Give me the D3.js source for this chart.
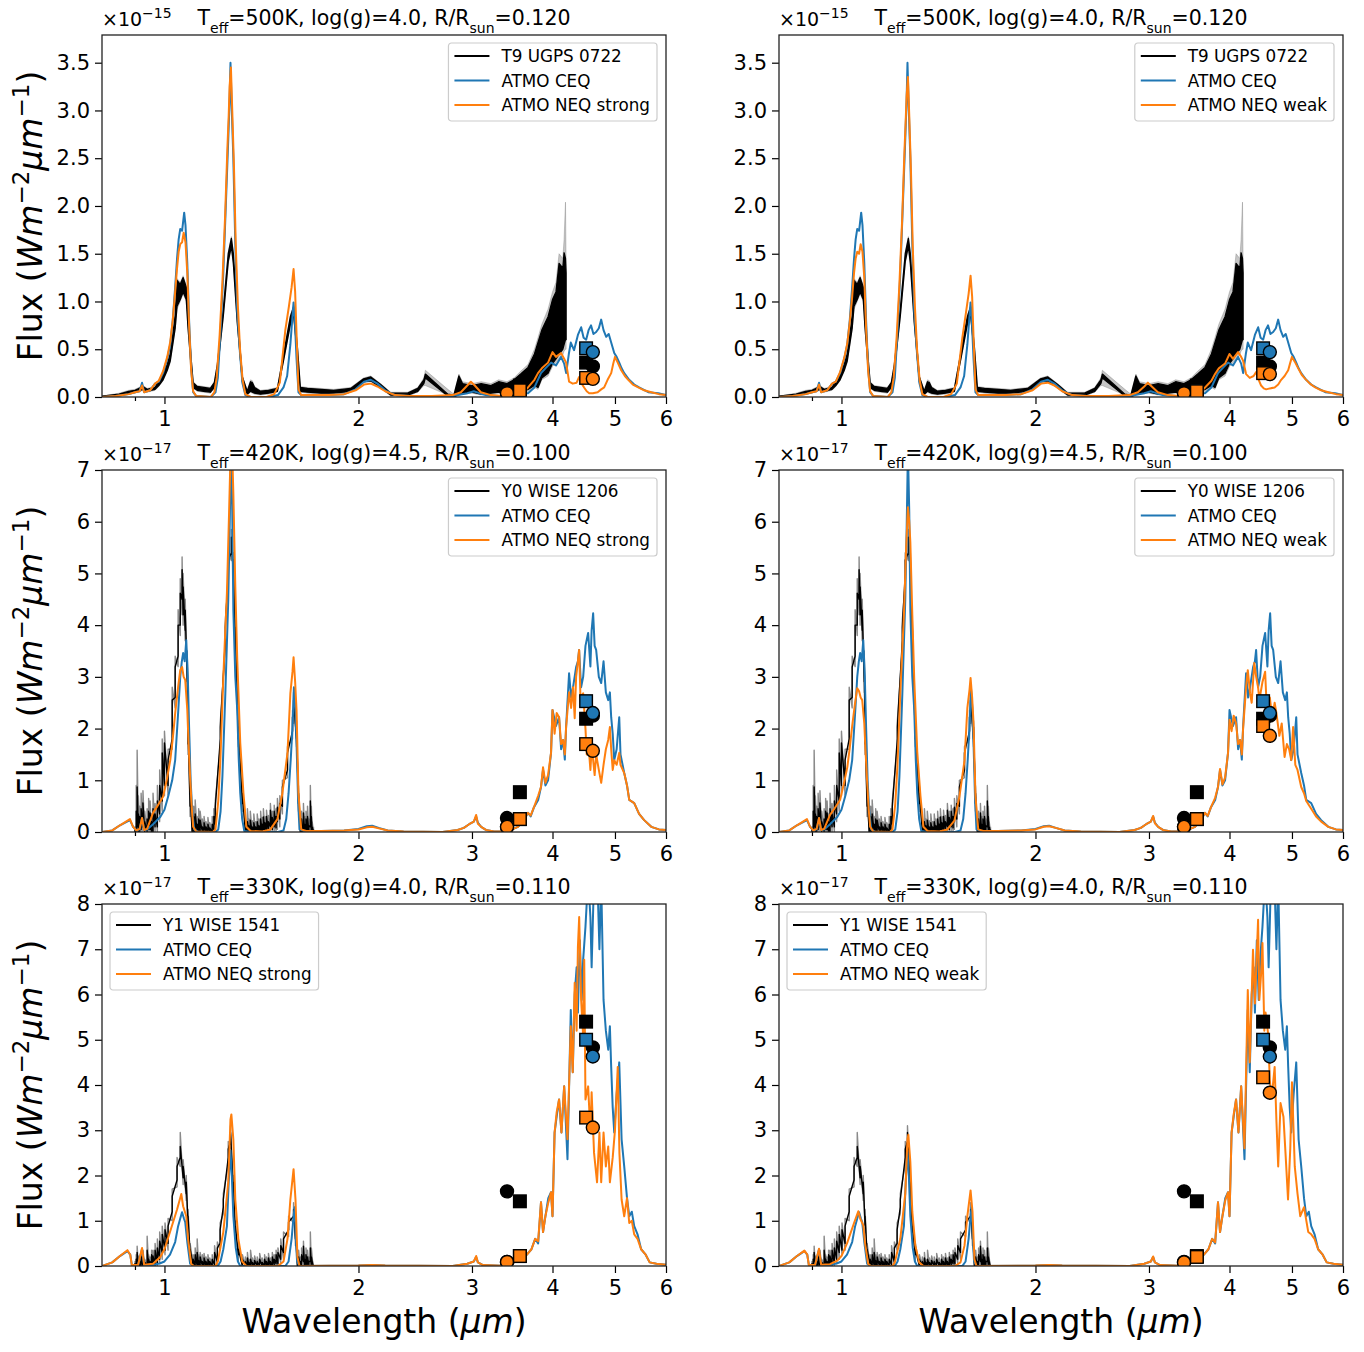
<!DOCTYPE html>
<html>
<head>
<meta charset="utf-8">
<script src="https://cdn.jsdelivr.net/npm/d3@7"></script>
<style>
  body { margin: 0; background: #fff; }
  svg { font-family: "DejaVu Sans", sans-serif; }
</style>
</head>
<body>
<div id="chart"></div>
<script>
// ---- Data (flux in units of the panel exponent, wavelength in micron) ----

// observed spectra: [wavelength, lo, hi, errLo, errHi]
const obsT9 = [
  [0.80,0.00,0.01,0.00,0.01],[0.85,0.02,0.03,0.01,0.04],[0.88,0.04,0.06,0.03,0.07],[0.90,0.05,0.07,0.04,0.08],
  [0.926,0.08,0.11,0.07,0.12],[0.94,0.06,0.08,0.05,0.09],[0.967,0.08,0.10,0.07,0.11],[0.98,0.12,0.16,0.11,0.17],
  [0.995,0.18,0.24,0.17,0.25],[1.01,0.28,0.34,0.27,0.35],[1.021,0.38,0.45,0.36,0.47],[1.039,0.72,0.85,0.70,0.87],
  [1.046,0.95,1.22,0.92,1.24],[1.058,1.02,1.18,1.00,1.20],[1.069,1.10,1.25,1.08,1.27],[1.081,1.02,1.15,1.00,1.17],
  [1.088,0.72,0.85,0.70,0.87],[1.100,0.32,0.40,0.30,0.42],[1.108,0.10,0.15,0.09,0.16],[1.124,0.07,0.11,0.06,0.12],
  [1.15,0.06,0.10,0.05,0.11],[1.178,0.05,0.09,0.04,0.10],[1.195,0.10,0.15,0.09,0.16],[1.208,0.28,0.34,0.27,0.35],
  [1.234,0.85,0.92,0.83,0.94],[1.256,1.42,1.50,1.40,1.52],[1.270,1.58,1.66,1.56,1.68],[1.279,1.40,1.50,1.38,1.52],
  [1.297,0.78,0.86,0.76,0.88],[1.321,0.16,0.21,0.15,0.22],[1.344,0.03,0.06,0.02,0.07],[1.360,0.06,0.16,0.05,0.18],
  [1.369,0.05,0.15,0.04,0.17],[1.38,0.04,0.10,0.03,0.11],[1.409,0.03,0.06,0.02,0.07],[1.45,0.04,0.07,0.03,0.08],
  [1.497,0.06,0.09,0.05,0.10],[1.530,0.38,0.44,0.37,0.45],[1.568,0.76,0.84,0.75,0.86],[1.586,0.86,0.94,0.85,0.96],
  [1.608,0.45,0.52,0.44,0.53],[1.625,0.06,0.10,0.05,0.11],[1.667,0.05,0.09,0.04,0.10],[1.75,0.04,0.08,0.03,0.09],
  [1.83,0.04,0.07,0.03,0.08],[1.945,0.06,0.09,0.05,0.10],[2.037,0.16,0.19,0.15,0.20],[2.09,0.17,0.21,0.16,0.22],
  [2.165,0.10,0.13,0.09,0.14],[2.244,0.02,0.04,0.01,0.05],[2.384,0.02,0.04,0.01,0.05],[2.472,0.06,0.09,0.05,0.10],
  [2.526,0.14,0.18,0.12,0.20],[2.54,0.20,0.24,0.12,0.28],[2.752,0.01,0.03,0.02,0.08],[2.812,0.00,0.02,0.00,0.03],
  [2.863,0.03,0.22,0.02,0.24],[2.90,0.04,0.14,0.03,0.16],[3.00,0.05,0.12,0.04,0.14],[3.10,0.03,0.14,0.02,0.16],
  [3.21,0.04,0.12,0.03,0.14],[3.30,0.05,0.16,0.04,0.18],[3.40,0.04,0.14,0.03,0.16],[3.486,0.02,0.18,0.01,0.20],
  [3.57,0.05,0.24,0.04,0.27],[3.665,0.08,0.31,0.06,0.34],[3.75,0.12,0.45,0.10,0.50],[3.798,0.10,0.57,0.08,0.62],
  [3.85,0.20,0.70,0.18,0.76],[3.937,0.25,0.84,0.22,0.92],[4.00,0.35,1.02,0.32,1.10],[4.05,0.40,1.10,0.36,1.20],
  [4.095,0.45,1.40,0.40,1.50],[4.15,0.50,1.35,0.44,1.45],[4.169,0.55,1.51,0.48,1.65],[4.19,0.60,1.45,0.50,2.04],
  [4.199,0.60,1.30,0.50,1.40]
];

const obsY0 = [
  [0.900,0.00,0.05,0.00,0.10],[0.904,0.00,0.40,0.00,0.90],[0.907,0.10,0.87,0.00,1.58],[0.911,0.00,0.35,0.00,0.70],
  [0.915,0.00,0.30,0.00,0.50],[0.920,0.05,0.45,0.00,0.75],[0.926,0.10,0.56,0.00,0.80],[0.932,0.00,0.20,0.00,0.40],
  [0.940,0.00,0.25,0.00,0.45],[0.945,0.05,0.40,0.00,0.65],[0.950,0.05,0.37,0.00,0.60],[0.955,0.00,0.20,0.00,0.35],
  [0.960,0.00,0.45,0.00,0.75],[0.967,0.10,0.35,0.00,0.55],[0.975,0.10,0.60,0.00,0.90],[0.983,0.35,0.90,0.20,1.20],
  [0.992,0.60,1.53,0.40,1.80],[1.000,0.90,1.72,0.70,1.95],[1.013,0.90,1.39,0.70,1.60],[1.028,1.80,2.55,1.60,2.80],
  [1.039,2.60,3.19,2.40,3.40],[1.050,3.40,4.00,3.20,4.30],[1.058,4.00,4.62,3.80,4.90],[1.065,4.50,5.07,4.20,5.32],
  [1.069,4.20,4.74,4.00,5.00],[1.077,3.90,4.29,3.70,4.50],[1.085,2.90,3.33,2.70,3.50],[1.088,1.70,2.03,1.50,2.20],
  [1.096,0.50,0.75,0.30,0.90],[1.104,0.00,0.10,0.00,0.25],[1.110,0.00,0.30,0.00,0.50],[1.116,0.00,0.35,0.00,0.62],
  [1.124,0.00,0.15,0.00,0.30],[1.130,0.00,0.25,0.00,0.45],[1.136,0.00,0.23,0.00,0.40],[1.145,0.00,0.10,0.00,0.25],
  [1.152,0.00,0.18,0.00,0.30],[1.160,0.00,0.10,0.00,0.20],[1.168,0.00,0.15,0.00,0.28],[1.176,0.00,0.08,0.00,0.18],
  [1.186,0.00,0.15,0.00,0.30],[1.193,0.05,0.30,0.00,0.45],[1.199,0.15,0.48,0.05,0.60],[1.221,1.80,2.03,1.65,2.15],
  [1.243,3.70,3.96,3.55,4.10],[1.256,5.00,5.26,4.85,5.40],[1.270,5.40,5.70,5.25,5.85],[1.279,5.00,5.26,4.85,5.40],
  [1.288,3.70,3.96,3.55,4.10],[1.302,1.80,2.03,1.65,2.15],[1.321,0.55,0.75,0.40,0.90],[1.335,0.00,0.10,0.00,0.25],
  [1.345,0.00,0.20,0.00,0.45],[1.352,0.00,0.12,0.00,0.25],[1.359,0.00,0.23,0.00,0.40],[1.368,0.00,0.10,0.00,0.22],
  [1.376,0.00,0.18,0.00,0.35],[1.385,0.00,0.10,0.00,0.20],[1.393,0.00,0.20,0.00,0.35],[1.402,0.00,0.12,0.00,0.25],
  [1.410,0.02,0.25,0.00,0.40],[1.418,0.00,0.15,0.00,0.28],[1.424,0.05,0.29,0.00,0.45],[1.432,0.02,0.18,0.00,0.30],
  [1.440,0.05,0.30,0.00,0.42],[1.450,0.02,0.20,0.00,0.32],[1.460,0.10,0.42,0.00,0.55],[1.470,0.05,0.28,0.00,0.40],
  [1.480,0.10,0.40,0.00,0.52],[1.490,0.08,0.30,0.00,0.45],[1.497,0.20,0.48,0.05,0.65],[1.510,0.25,0.55,0.10,0.70],
  [1.524,0.50,0.87,0.35,1.00],[1.552,1.20,1.53,1.05,1.65],[1.580,1.95,2.22,1.80,2.35],[1.586,2.25,2.55,2.10,2.70],
  [1.603,1.80,2.03,1.65,2.15],[1.614,0.55,0.75,0.40,0.90],[1.625,0.00,0.10,0.00,0.25],[1.632,0.00,0.25,0.00,0.40],
  [1.638,0.00,0.10,0.00,0.20],[1.643,0.05,0.37,0.00,0.55],[1.650,0.00,0.15,0.00,0.30],[1.658,0.00,0.25,0.00,0.40],
  [1.667,0.00,0.30,0.00,0.50],[1.675,0.00,0.12,0.00,0.25],[1.684,0.10,0.60,0.00,0.90],[1.690,0.00,0.30,0.00,0.50],
  [1.695,0.00,0.10,0.00,0.20],[1.703,0.00,0.05,0.00,0.10]
];

const obsY1 = [
  [0.900,0.00,0.05,0.00,0.10],[0.904,0.00,0.15,0.00,0.25],[0.907,0.00,0.30,0.00,0.44],[0.911,0.00,0.12,0.00,0.22],
  [0.915,0.00,0.10,0.00,0.20],[0.920,0.00,0.22,0.00,0.30],[0.926,0.00,0.20,0.00,0.35],[0.932,0.00,0.08,0.00,0.15],
  [0.940,0.00,0.35,0.00,0.66],[0.945,0.00,0.15,0.00,0.25],[0.950,0.00,0.10,0.00,0.20],[0.955,0.00,0.25,0.00,0.35],
  [0.960,0.00,0.22,0.00,0.35],[0.967,0.02,0.35,0.00,0.50],[0.975,0.05,0.40,0.00,0.60],[0.983,0.15,0.55,0.05,0.75],
  [0.992,0.30,0.70,0.15,0.88],[1.002,0.35,0.80,0.25,0.95],[1.013,0.50,0.88,0.35,1.05],[1.028,1.20,1.54,1.00,1.70],
  [1.046,1.90,2.20,1.75,2.40],[1.058,2.40,2.64,2.20,2.95],[1.069,1.95,2.20,1.80,2.35],[1.081,1.60,1.85,1.45,2.00],
  [1.088,0.90,1.10,0.75,1.25],[1.096,0.25,0.37,0.15,0.50],[1.108,0.00,0.15,0.00,0.25],[1.116,0.00,0.25,0.00,0.40],
  [1.124,0.00,0.30,0.00,0.60],[1.130,0.00,0.12,0.00,0.25],[1.136,0.00,0.20,0.00,0.30],[1.145,0.00,0.10,0.00,0.25],
  [1.152,0.00,0.18,0.00,0.28],[1.16,0.00,0.10,0.00,0.20],[1.168,0.00,0.15,0.00,0.25],[1.176,0.00,0.10,0.00,0.18],
  [1.186,0.00,0.15,0.00,0.25],[1.196,0.02,0.30,0.00,0.45],[1.208,0.10,0.40,0.00,0.53],[1.22,0.50,0.80,0.35,0.95],
  [1.234,1.30,1.47,1.15,1.60],[1.256,2.40,2.58,2.25,2.75],[1.266,2.75,2.95,2.60,3.10],[1.279,1.70,1.85,1.55,2.00],
  [1.288,0.75,0.88,0.60,1.00],[1.302,0.25,0.37,0.10,0.50],[1.321,0.00,0.15,0.00,0.25],[1.335,0.00,0.10,0.00,0.20],
  [1.345,0.00,0.18,0.00,0.30],[1.352,0.00,0.08,0.00,0.15],[1.36,0.00,0.15,0.00,0.35],[1.37,0.00,0.08,0.00,0.18],
  [1.38,0.00,0.12,0.00,0.22],[1.393,0.00,0.10,0.00,0.20],[1.405,0.00,0.15,0.00,0.28],[1.418,0.00,0.08,0.00,0.18],
  [1.43,0.00,0.15,0.00,0.25],[1.44,0.00,0.10,0.00,0.20],[1.45,0.00,0.18,0.00,0.28],[1.46,0.00,0.10,0.00,0.18],
  [1.47,0.00,0.20,0.00,0.30],[1.48,0.02,0.15,0.00,0.25],[1.49,0.05,0.25,0.00,0.35],[1.50,0.05,0.30,0.00,0.40],
  [1.515,0.15,0.45,0.05,0.60],[1.53,0.30,0.60,0.15,0.75],[1.558,0.80,0.97,0.65,1.10],[1.586,1.10,1.25,0.95,1.40],
  [1.597,0.60,0.75,0.45,0.90],[1.608,0.00,0.10,0.00,0.20],[1.615,0.00,0.20,0.00,0.35],[1.625,0.00,0.10,0.00,0.20],
  [1.632,0.00,0.25,0.00,0.40],[1.643,0.10,0.44,0.00,0.55],[1.650,0.00,0.15,0.00,0.25],[1.658,0.00,0.25,0.00,0.40],
  [1.667,0.00,0.20,0.00,0.35],[1.675,0.00,0.10,0.00,0.20],[1.684,0.10,0.40,0.00,0.75],[1.690,0.00,0.20,0.00,0.40],
  [1.70,0.00,0.05,0.00,0.10]
];

// model spectra: [wavelength, flux]
const ceq500 = [
  [0.80,0.00],[0.84,0.01],[0.88,0.03],[0.90,0.05],[0.915,0.06],[0.923,0.15],[0.93,0.05],[0.95,0.07],[0.967,0.14],
  [0.98,0.16],[0.995,0.25],[1.01,0.40],[1.021,0.55],[1.03,0.80],[1.039,1.15],[1.046,1.45],[1.052,1.65],[1.058,1.76],
  [1.065,1.74],[1.073,1.93],[1.078,1.80],[1.085,1.40],[1.092,0.80],[1.10,0.30],[1.108,0.05],[1.12,0.01],[1.18,0.00],
  [1.20,0.05],[1.21,0.20],[1.222,0.70],[1.234,1.30],[1.245,2.00],[1.256,2.70],[1.262,3.10],[1.266,3.50],[1.272,3.00],
  [1.279,2.50],[1.288,1.60],[1.297,0.90],[1.31,0.45],[1.321,0.15],[1.335,0.02],[1.36,0.00],[1.45,0.00],[1.50,0.02],
  [1.53,0.10],[1.55,0.22],[1.568,0.55],[1.58,0.85],[1.586,0.99],[1.592,0.85],[1.603,0.40],[1.614,0.05],[1.63,0.02],
  [1.70,0.02],[1.80,0.02],[1.90,0.03],[1.98,0.08],[2.04,0.16],[2.09,0.18],[2.14,0.14],[2.20,0.07],[2.28,0.02],
  [2.40,0.01],[2.60,0.01],[2.80,0.01],[2.95,0.04],[3.02,0.06],[3.08,0.04],[3.15,0.02],[3.30,0.01],[3.45,0.02],
  [3.55,0.04],[3.665,0.04],[3.75,0.10],[3.839,0.25],[3.90,0.30],[3.98,0.36],[4.05,0.33],[4.124,0.42],[4.17,0.35],
  [4.20,0.25],[4.24,0.45],[4.27,0.57],[4.32,0.49],[4.38,0.65],[4.431,0.73],[4.47,0.62],[4.511,0.60],[4.55,0.70],
  [4.59,0.75],[4.63,0.66],[4.675,0.68],[4.72,0.72],[4.76,0.81],[4.80,0.70],[4.846,0.63],[4.89,0.66],[4.933,0.57],
  [4.987,0.46],[5.03,0.42],[5.077,0.36],[5.12,0.30],[5.168,0.25],[5.26,0.18],[5.356,0.13],[5.45,0.10],[5.632,0.05],
  [5.837,0.04],[6.0,0.02]
];

const neqStrong500 = [
  [0.80,0.00],[0.84,0.01],[0.88,0.03],[0.90,0.05],[0.915,0.06],[0.923,0.12],[0.93,0.05],[0.95,0.07],[0.967,0.14],
  [0.98,0.17],[0.995,0.27],[1.01,0.42],[1.021,0.58],[1.03,0.80],[1.039,1.10],[1.046,1.35],[1.052,1.52],[1.058,1.60],
  [1.065,1.62],[1.071,1.72],[1.078,1.62],[1.085,1.30],[1.092,0.75],[1.10,0.28],[1.108,0.06],[1.12,0.01],[1.18,0.00],
  [1.195,0.05],[1.205,0.20],[1.218,0.65],[1.23,1.20],[1.242,1.90],[1.252,2.60],[1.258,2.95],[1.262,3.25],[1.268,3.45],
  [1.274,3.00],[1.282,2.40],[1.29,1.60],[1.30,0.95],[1.31,0.50],[1.322,0.18],[1.335,0.03],[1.36,0.00],[1.44,0.00],
  [1.48,0.03],[1.51,0.15],[1.54,0.70],[1.56,0.95],[1.575,1.15],[1.586,1.34],[1.595,1.10],[1.605,0.55],[1.614,0.08],
  [1.63,0.02],[1.70,0.02],[1.80,0.02],[1.90,0.03],[1.98,0.07],[2.04,0.13],[2.09,0.14],[2.14,0.11],[2.20,0.06],
  [2.28,0.02],[2.40,0.01],[2.60,0.01],[2.80,0.02],[2.883,0.05],[2.95,0.12],[2.988,0.16],[3.03,0.12],[3.097,0.05],
  [3.21,0.02],[3.35,0.01],[3.50,0.02],[3.60,0.05],[3.665,0.10],[3.75,0.18],[3.798,0.25],[3.85,0.30],[3.937,0.36],
  [4.00,0.47],[4.05,0.42],[4.124,0.46],[4.17,0.40],[4.199,0.36],[4.244,0.16],[4.30,0.14],[4.36,0.15],[4.399,0.21],
  [4.44,0.14],[4.478,0.10],[4.52,0.06],[4.56,0.04],[4.62,0.04],[4.70,0.05],[4.76,0.08],[4.811,0.10],[4.87,0.18],
  [4.933,0.25],[4.97,0.35],[5.0,0.42],[5.05,0.36],[5.113,0.28],[5.18,0.22],[5.243,0.18],[5.33,0.13],[5.434,0.10],
  [5.55,0.07],[5.693,0.05],[5.85,0.03],[6.0,0.02]
];

const neqWeak500 = [
  [0.80,0.00],[0.84,0.01],[0.88,0.03],[0.90,0.05],[0.915,0.06],[0.923,0.13],[0.93,0.05],[0.95,0.07],[0.967,0.14],
  [0.98,0.16],[0.995,0.26],[1.01,0.41],[1.021,0.56],[1.03,0.78],[1.039,1.05],[1.046,1.30],[1.052,1.45],[1.058,1.52],
  [1.065,1.50],[1.071,1.60],[1.078,1.52],[1.085,1.25],[1.092,0.72],[1.10,0.27],[1.108,0.06],[1.12,0.01],[1.18,0.00],
  [1.195,0.05],[1.205,0.20],[1.218,0.63],[1.23,1.18],[1.242,1.85],[1.252,2.55],[1.258,2.90],[1.262,3.15],[1.268,3.35],
  [1.274,2.95],[1.282,2.35],[1.29,1.58],[1.30,0.95],[1.31,0.50],[1.322,0.18],[1.335,0.03],[1.36,0.00],[1.44,0.00],
  [1.48,0.03],[1.51,0.14],[1.54,0.62],[1.56,0.88],[1.575,1.08],[1.586,1.27],[1.595,1.05],[1.605,0.52],[1.614,0.08],
  [1.63,0.02],[1.70,0.02],[1.80,0.02],[1.90,0.03],[1.98,0.07],[2.04,0.14],[2.09,0.15],[2.14,0.12],[2.20,0.06],
  [2.28,0.02],[2.40,0.01],[2.60,0.01],[2.80,0.02],[2.883,0.05],[2.95,0.11],[2.988,0.15],[3.03,0.11],[3.097,0.05],
  [3.21,0.02],[3.35,0.01],[3.50,0.02],[3.60,0.05],[3.665,0.10],[3.75,0.17],[3.798,0.24],[3.85,0.30],[3.937,0.35],
  [4.00,0.45],[4.05,0.40],[4.124,0.47],[4.17,0.42],[4.199,0.38],[4.244,0.24],[4.30,0.20],[4.36,0.22],[4.399,0.26],
  [4.44,0.18],[4.478,0.12],[4.52,0.09],[4.56,0.08],[4.62,0.09],[4.70,0.10],[4.76,0.13],[4.811,0.18],[4.87,0.22],
  [4.933,0.28],[4.97,0.36],[5.0,0.42],[5.05,0.37],[5.113,0.30],[5.18,0.23],[5.243,0.19],[5.33,0.14],[5.434,0.10],
  [5.55,0.07],[5.693,0.05],[5.85,0.03],[6.0,0.02]
];

const ceq420 = [
  [0.80,0.00],[0.83,0.03],[0.853,0.13],[0.884,0.23],[0.894,0.10],[0.905,0.03],[0.915,0.05],[0.923,0.27],[0.93,0.04],
  [0.94,0.05],[0.96,0.15],[0.985,0.29],[1.00,0.43],[1.014,0.70],[1.028,1.00],[1.039,1.39],[1.05,2.30],[1.058,3.00],
  [1.064,3.30],[1.069,3.46],[1.075,3.30],[1.081,3.71],[1.087,3.00],[1.092,2.03],[1.098,1.00],[1.104,0.43],[1.112,0.05],
  [1.13,0.00],[1.20,0.00],[1.212,0.05],[1.222,0.40],[1.23,1.07],[1.243,2.68],[1.256,4.49],[1.262,5.80],[1.268,7.40],
  [1.274,6.20],[1.279,4.29],[1.288,3.00],[1.297,2.36],[1.304,1.40],[1.311,0.75],[1.32,0.25],[1.33,0.02],[1.36,0.00],
  [1.50,0.00],[1.53,0.03],[1.545,0.25],[1.558,0.75],[1.57,1.40],[1.58,2.03],[1.588,2.80],[1.596,2.40],[1.603,1.72],
  [1.612,0.60],[1.62,0.05],[1.65,0.02],[1.75,0.02],[1.90,0.03],[2.00,0.06],[2.06,0.11],[2.10,0.12],[2.15,0.08],
  [2.22,0.03],[2.35,0.01],[2.70,0.00],[2.85,0.04],[2.914,0.08],[2.97,0.15],[3.02,0.20],[3.045,0.30],[3.064,0.18],
  [3.10,0.10],[3.153,0.04],[3.245,0.01],[3.40,0.01],[3.536,0.10],[3.60,0.20],[3.665,0.37],[3.70,0.30],[3.744,0.48],
  [3.80,0.62],[3.839,0.87],[3.867,1.20],[3.90,0.90],[3.937,1.00],[3.979,1.53],[4.00,2.36],[4.05,2.05],[4.095,2.22],
  [4.125,1.60],[4.154,1.78],[4.18,1.40],[4.199,2.03],[4.244,3.07],[4.275,2.60],[4.305,2.80],[4.352,3.19],[4.38,3.30],
  [4.399,3.52],[4.43,2.80],[4.463,3.00],[4.50,3.60],[4.543,3.85],[4.58,3.20],[4.60,3.90],[4.625,4.23],[4.65,3.60],
  [4.675,3.52],[4.72,3.00],[4.76,2.88],[4.80,3.30],[4.84,2.70],[4.881,2.55],[4.91,2.70],[4.933,2.22],[4.96,1.90],
  [4.987,1.39],[5.03,1.60],[5.077,2.22],[5.10,1.50],[5.168,1.14],[5.22,0.90],[5.262,0.62],[5.356,0.56],[5.45,0.35],
  [5.55,0.23],[5.693,0.10],[5.85,0.05],[6.0,0.04]
];

const neqStrong420 = [
  [0.80,0.00],[0.83,0.03],[0.853,0.13],[0.884,0.25],[0.894,0.10],[0.905,0.03],[0.915,0.06],[0.923,0.27],[0.93,0.04],
  [0.94,0.06],[0.96,0.37],[0.975,0.50],[0.995,0.68],[1.008,1.00],[1.021,1.39],[1.03,1.80],[1.039,2.30],[1.05,2.80],
  [1.058,3.13],[1.065,3.19],[1.071,3.00],[1.077,2.94],[1.085,2.36],[1.09,1.70],[1.096,1.07],[1.102,0.50],[1.108,0.10],
  [1.12,0.01],[1.19,0.00],[1.20,0.05],[1.212,0.60],[1.221,1.39],[1.234,3.00],[1.25,4.62],[1.26,6.23],[1.268,7.60],
  [1.274,7.30],[1.279,6.55],[1.288,4.74],[1.297,3.33],[1.311,1.72],[1.326,0.75],[1.34,0.10],[1.36,0.02],[1.42,0.01],
  [1.46,0.05],[1.497,0.25],[1.524,0.75],[1.552,1.53],[1.568,2.68],[1.58,3.10],[1.586,3.38],[1.595,2.90],[1.603,2.36],
  [1.614,0.75],[1.63,0.05],[1.66,0.02],[1.75,0.02],[1.90,0.03],[2.00,0.05],[2.06,0.09],[2.10,0.10],[2.15,0.07],
  [2.22,0.03],[2.35,0.01],[2.70,0.00],[2.85,0.04],[2.914,0.08],[2.97,0.15],[3.02,0.20],[3.045,0.33],[3.064,0.16],
  [3.10,0.10],[3.153,0.04],[3.245,0.01],[3.40,0.01],[3.536,0.10],[3.60,0.22],[3.665,0.37],[3.70,0.32],[3.744,0.48],
  [3.80,0.70],[3.839,0.87],[3.867,1.25],[3.90,0.95],[3.937,1.10],[3.979,1.53],[4.00,2.36],[4.03,1.90],[4.06,2.30],
  [4.095,2.22],[4.125,1.70],[4.154,1.78],[4.18,1.50],[4.199,2.03],[4.244,2.70],[4.275,2.40],[4.305,2.80],[4.33,2.20],
  [4.352,3.00],[4.38,3.30],[4.399,3.52],[4.42,2.60],[4.463,2.68],[4.50,2.00],[4.52,1.50],[4.543,1.78],[4.58,1.20],
  [4.60,1.60],[4.625,1.39],[4.65,1.10],[4.675,1.50],[4.72,1.20],[4.76,0.95],[4.80,1.30],[4.84,1.60],[4.881,1.78],
  [4.91,2.03],[4.933,1.60],[4.96,1.20],[4.987,1.39],[5.03,1.30],[5.077,1.53],[5.10,1.30],[5.168,1.14],[5.22,0.90],
  [5.262,0.62],[5.356,0.56],[5.45,0.35],[5.55,0.23],[5.693,0.10],[5.85,0.05],[6.0,0.04]
];

const neqWeak420 = [
  [0.80,0.00],[0.83,0.03],[0.853,0.13],[0.884,0.25],[0.894,0.10],[0.905,0.03],[0.915,0.06],[0.923,0.27],[0.93,0.04],
  [0.94,0.06],[0.96,0.33],[0.975,0.45],[0.995,0.62],[1.008,0.92],[1.021,1.25],[1.03,1.62],[1.039,2.05],[1.05,2.50],
  [1.058,2.78],[1.065,2.72],[1.071,2.60],[1.077,2.55],[1.085,2.10],[1.09,1.55],[1.096,0.98],[1.102,0.45],[1.108,0.10],
  [1.12,0.01],[1.19,0.00],[1.20,0.05],[1.212,0.55],[1.221,1.25],[1.234,2.70],[1.25,4.20],[1.26,5.50],[1.268,6.28],
  [1.274,6.00],[1.279,5.60],[1.288,4.20],[1.297,2.95],[1.311,1.55],[1.326,0.70],[1.34,0.10],[1.36,0.02],[1.42,0.01],
  [1.46,0.05],[1.497,0.22],[1.524,0.68],[1.552,1.38],[1.568,2.40],[1.58,2.75],[1.586,2.98],[1.595,2.60],[1.603,2.10],
  [1.614,0.70],[1.63,0.05],[1.66,0.02],[1.75,0.02],[1.90,0.03],[2.00,0.05],[2.06,0.10],[2.10,0.11],[2.15,0.08],
  [2.22,0.03],[2.35,0.01],[2.70,0.00],[2.85,0.04],[2.914,0.08],[2.97,0.15],[3.02,0.20],[3.045,0.31],[3.064,0.17],
  [3.10,0.10],[3.153,0.04],[3.245,0.01],[3.40,0.01],[3.536,0.10],[3.60,0.21],[3.665,0.37],[3.70,0.31],[3.744,0.48],
  [3.80,0.66],[3.839,0.87],[3.867,1.22],[3.90,0.92],[3.937,1.05],[3.979,1.53],[4.00,2.17],[4.03,1.95],[4.06,2.25],
  [4.095,2.10],[4.125,1.70],[4.154,1.78],[4.18,1.50],[4.199,2.00],[4.244,2.80],[4.27,3.13],[4.305,2.68],[4.33,2.50],
  [4.37,3.27],[4.40,3.00],[4.43,2.80],[4.45,2.55],[4.50,2.90],[4.543,3.10],[4.58,2.10],[4.62,2.60],[4.66,2.20],
  [4.70,2.50],[4.73,2.30],[4.78,1.86],[4.82,2.10],[4.87,1.45],[4.91,1.70],[4.95,1.60],[4.987,1.39],[5.02,2.03],
  [5.06,1.30],[5.10,1.20],[5.168,0.87],[5.22,0.75],[5.262,0.60],[5.356,0.45],[5.45,0.30],[5.55,0.20],[5.693,0.10],
  [5.85,0.05],[6.0,0.04]
];

const ceq330 = [
  [0.80,0.00],[0.83,0.08],[0.853,0.22],[0.876,0.33],[0.885,0.25],[0.89,0.02],[0.91,0.02],[0.923,0.37],[0.93,0.02],
  [0.96,0.02],[0.985,0.06],[1.00,0.10],[1.02,0.25],[1.039,0.53],[1.05,0.88],[1.058,1.05],[1.065,1.19],[1.072,1.05],
  [1.077,0.97],[1.085,0.53],[1.096,0.05],[1.11,0.00],[1.21,0.00],[1.222,0.10],[1.234,0.37],[1.25,0.88],[1.258,1.85],
  [1.266,2.55],[1.272,2.00],[1.279,1.10],[1.29,0.40],[1.30,0.10],[1.311,0.00],[1.54,0.00],[1.558,0.10],[1.575,0.60],
  [1.586,1.10],[1.592,1.30],[1.598,0.70],[1.606,0.10],[1.62,0.00],[2.0,0.01],[2.10,0.02],[2.2,0.01],[2.8,0.00],
  [2.95,0.05],[3.02,0.10],[3.045,0.20],[3.064,0.08],[3.12,0.02],[3.40,0.00],[3.57,0.15],[3.65,0.25],[3.71,0.37],
  [3.76,0.60],[3.80,0.50],[3.839,1.41],[3.867,0.75],[3.90,1.10],[3.94,1.50],[3.979,1.63],[4.00,1.10],[4.03,2.95],
  [4.06,3.30],[4.095,3.68],[4.13,2.95],[4.17,3.97],[4.22,2.36],[4.27,5.66],[4.30,4.28],[4.33,6.00],[4.36,6.60],
  [4.38,5.60],[4.41,7.20],[4.44,5.88],[4.463,6.77],[4.50,7.50],[4.543,8.60],[4.58,7.71],[4.60,6.60],[4.64,8.60],
  [4.69,8.80],[4.73,7.00],[4.76,8.50],[4.80,5.88],[4.84,5.20],[4.881,4.78],[4.91,5.30],[4.933,4.40],[4.96,3.50],
  [4.987,2.95],[5.03,3.80],[5.077,4.50],[5.12,2.80],[5.168,2.20],[5.22,1.50],[5.262,1.10],[5.31,1.20],[5.356,0.88],
  [5.42,0.70],[5.49,0.37],[5.58,0.25],[5.66,0.08],[5.80,0.05],[6.0,0.03]
];

const neqStrong330 = [
  [0.80,0.00],[0.83,0.08],[0.853,0.22],[0.876,0.35],[0.885,0.25],[0.89,0.02],[0.91,0.02],[0.923,0.40],[0.93,0.03],
  [0.96,0.05],[0.985,0.20],[1.00,0.37],[1.02,0.75],[1.046,1.25],[1.062,1.59],[1.069,1.32],[1.081,1.10],[1.088,0.60],
  [1.10,0.05],[1.11,0.00],[1.20,0.00],[1.21,0.10],[1.234,0.75],[1.256,1.85],[1.266,3.24],[1.27,3.35],[1.279,2.80],
  [1.288,1.47],[1.302,0.60],[1.32,0.10],[1.34,0.00],[1.50,0.00],[1.53,0.10],[1.552,0.60],[1.568,1.47],[1.586,2.14],
  [1.597,1.47],[1.608,0.20],[1.62,0.00],[2.0,0.01],[2.10,0.02],[2.2,0.01],[2.8,0.00],[2.95,0.05],[3.02,0.10],
  [3.045,0.22],[3.064,0.08],[3.12,0.02],[3.40,0.00],[3.57,0.15],[3.65,0.25],[3.71,0.37],[3.76,0.60],[3.80,0.55],
  [3.839,1.41],[3.867,0.75],[3.90,1.10],[3.94,1.40],[3.979,1.63],[4.00,1.10],[4.03,2.95],[4.06,3.40],[4.095,3.68],
  [4.13,2.95],[4.17,3.97],[4.22,2.80],[4.27,5.30],[4.30,4.28],[4.33,6.26],[4.36,5.20],[4.38,7.05],[4.40,7.71],
  [4.431,5.88],[4.46,5.15],[4.48,6.77],[4.50,3.68],[4.543,3.97],[4.58,2.95],[4.60,3.84],[4.64,2.50],[4.69,1.85],
  [4.73,2.95],[4.76,1.85],[4.80,2.95],[4.84,2.20],[4.881,2.64],[4.91,1.85],[4.96,2.40],[5.0,3.00],[5.05,4.40],
  [5.08,2.50],[5.12,1.47],[5.168,1.10],[5.22,1.50],[5.262,0.95],[5.31,1.00],[5.356,0.70],[5.42,0.60],[5.49,0.37],
  [5.58,0.25],[5.66,0.08],[5.80,0.05],[6.0,0.03]
];

const neqWeak330 = [
  [0.80,0.00],[0.83,0.08],[0.853,0.22],[0.876,0.34],[0.885,0.25],[0.89,0.02],[0.91,0.02],[0.923,0.38],[0.93,0.03],
  [0.96,0.04],[0.985,0.12],[1.00,0.22],[1.02,0.50],[1.046,0.95],[1.062,1.21],[1.069,1.05],[1.081,0.90],[1.088,0.50],
  [1.10,0.05],[1.11,0.00],[1.20,0.00],[1.21,0.08],[1.234,0.60],[1.256,1.60],[1.266,2.80],[1.27,2.90],[1.279,2.30],
  [1.288,1.20],[1.302,0.45],[1.32,0.08],[1.34,0.00],[1.50,0.00],[1.53,0.08],[1.552,0.45],[1.568,1.10],[1.586,1.67],
  [1.597,1.20],[1.608,0.15],[1.62,0.00],[2.0,0.01],[2.10,0.02],[2.2,0.01],[2.8,0.00],[2.95,0.05],[3.02,0.10],
  [3.045,0.21],[3.064,0.08],[3.12,0.02],[3.40,0.00],[3.57,0.15],[3.65,0.25],[3.71,0.37],[3.76,0.60],[3.80,0.52],
  [3.839,1.41],[3.867,0.75],[3.90,1.10],[3.94,1.45],[3.979,1.63],[4.00,1.10],[4.03,2.95],[4.06,3.35],[4.095,3.68],
  [4.13,2.95],[4.17,3.97],[4.22,2.60],[4.27,6.10],[4.30,4.50],[4.35,6.99],[4.38,5.80],[4.43,7.65],[4.45,5.88],
  [4.48,6.50],[4.50,7.14],[4.53,5.20],[4.55,5.60],[4.59,5.15],[4.62,4.10],[4.65,3.70],[4.70,4.40],[4.73,3.20],
  [4.76,2.20],[4.80,3.60],[4.85,3.30],[4.89,2.40],[4.93,1.47],[4.97,2.60],[5.00,4.06],[5.05,2.20],[5.10,1.60],
  [5.15,1.10],[5.22,1.30],[5.30,0.75],[5.356,0.70],[5.42,0.60],[5.49,0.37],[5.58,0.25],[5.66,0.08],[5.80,0.05],
  [6.0,0.03]
];

// photometry: W1, IRAC ch1, IRAC ch2, W2
const photWave = [3.40, 3.56, 4.51, 4.62];
const photShape = ["circle", "square", "square", "circle"];
const photObs500 = [0.05, 0.12, 0.36, 0.32];
const photCeq500 = [0.04, 0.07, 0.51, 0.47];
const photStrong500 = [0.04, 0.07, 0.20, 0.19];
const photWeak500 = [0.04, 0.06, 0.25, 0.24];
const photObs420 = [0.27, 0.77, 2.19, 2.25];
const photCeq420 = [0.10, 0.25, 2.53, 2.30];
const photStrong420 = [0.10, 0.25, 1.70, 1.57];
const photWeak420 = [0.10, 0.25, 2.05, 1.86];
const photObs330 = [1.65, 1.43, 5.40, 4.83];
const photCeq330 = [0.09, 0.22, 5.00, 4.63];
const photStrong330 = [0.09, 0.22, 3.28, 3.06];
const photWeak330 = [0.08, 0.20, 4.17, 3.83];

// labels and ticks
const objectNames = ["T9 UGPS 0722", "Y0 WISE 1206", "Y1 WISE 1541"];
const teffs = ["500", "420", "330"];
const loggs = ["4.0", "4.5", "4.0"];
const radii = ["0.120", "0.100", "0.110"];
const exponents = ["\u221215", "\u221217", "\u221217"];
const yMaxes = [3.79, 7, 8];
const yTicksTop = [0, 0.5, 1, 1.5, 2, 2.5, 3, 3.5];
const yTicksMid = [0, 1, 2, 3, 4, 5, 6, 7];
const yTicksBot = [0, 1, 2, 3, 4, 5, 6, 7, 8];
const xTicks = [1, 2, 3, 4, 5, 6];
const xMinorTicks = [0.9];
const neqNames = ["ATMO NEQ strong", "ATMO NEQ weak"];

// ---- Layout ----
const W = 1364, H = 1352;
const colX = [102, 779];
const rowY = [35, 470, 904];
const plotW = 564, plotH = 362;
const blue = "#1f77b4", orange = "#ff7f0e";

const rows = [
  { obs: obsT9, ceq: ceq500, neq: [neqStrong500, neqWeak500], pObs: photObs500, pCeq: photCeq500,
    pNeq: [photStrong500, photWeak500], yTicks: yTicksTop, fmt: d3.format(".1f"), legendLeft: false, dense: true },
  { obs: obsY0, ceq: ceq420, neq: [neqStrong420, neqWeak420], pObs: photObs420, pCeq: photCeq420,
    pNeq: [photStrong420, photWeak420], yTicks: yTicksMid, fmt: d3.format("d"), legendLeft: false, dense: false },
  { obs: obsY1, ceq: ceq330, neq: [neqStrong330, neqWeak330], pObs: photObs330, pCeq: photCeq330,
    pNeq: [photStrong330, photWeak330], yTicks: yTicksBot, fmt: d3.format("d"), legendLeft: true, dense: false }
];

const svg = d3.select("#chart").append("svg")
  .attr("width", W).attr("height", H);
const defs = svg.append("defs");

const x = d3.scaleLog().domain([0.8, 6]).range([0, plotW]);

function drawMarkers(g, y, fluxes, fill, stroke) {
  photWave.forEach((w, i) => {
    const cx = x(w), cy = y(fluxes[i]);
    if (photShape[i] === "square") {
      g.append("rect").attr("x", cx - 6.3).attr("y", cy - 6.3)
        .attr("width", 12.6).attr("height", 12.6)
        .attr("fill", fill).attr("stroke", stroke).attr("stroke-width", 1.4);
    } else {
      g.append("circle").attr("cx", cx).attr("cy", cy).attr("r", 6.5)
        .attr("fill", fill).attr("stroke", stroke).attr("stroke-width", 1.4);
    }
  });
}

rows.forEach((r, ri) => {
  [0, 1].forEach(ci => {
    const id = `p${ri}${ci}`;
    const g = svg.append("g").attr("transform", `translate(${colX[ci]},${rowY[ri]})`);
    const y = d3.scaleLinear().domain([0, yMaxes[ri]]).range([plotH, 0]);

    defs.append("clipPath").attr("id", id)
      .append("rect").attr("width", plotW).attr("height", plotH);

    const plot = g.append("g").attr("clip-path", `url(#${id})`);
    const line = d3.line().x(d => x(d[0])).y(d => y(d[1]));

    if (r.dense) {
      // error band and observed envelope as filled areas
      plot.append("path").datum(r.obs)
        .attr("d", d3.area().x(d => x(d[0])).y0(d => y(d[3])).y1(d => y(d[4])))
        .attr("fill", "#7f7f7f").attr("fill-opacity", 0.45)
        .attr("stroke", "#7f7f7f").attr("stroke-opacity", 0.5).attr("stroke-width", 0.8);
      plot.append("path").datum(r.obs)
        .attr("d", d3.area().x(d => x(d[0])).y0(d => y(d[1])).y1(d => y(d[2])))
        .attr("fill", "#000").attr("stroke", "#000").attr("stroke-width", 1.3)
        .attr("stroke-linejoin", "round");
    } else {
      // noisy spectrum: trace each sample's low and high value
      plot.append("path").datum(r.obs.flatMap(d => [[d[0], d[3]], [d[0], d[4]]]))
        .attr("d", line).attr("fill", "none")
        .attr("stroke", "#8a8a8a").attr("stroke-width", 1.4).attr("stroke-linejoin", "round");
      plot.append("path").datum(r.obs.flatMap(d => [[d[0], d[1]], [d[0], d[2]]]))
        .attr("d", line).attr("fill", "none")
        .attr("stroke", "#000").attr("stroke-width", 1.4).attr("stroke-linejoin", "round");
    }

    plot.append("path").datum(r.ceq).attr("d", line)
      .attr("fill", "none").attr("stroke", blue).attr("stroke-width", 2).attr("stroke-linejoin", "round");
    plot.append("path").datum(r.neq[ci]).attr("d", line)
      .attr("fill", "none").attr("stroke", orange).attr("stroke-width", 2).attr("stroke-linejoin", "round");

    drawMarkers(plot, y, r.pObs, "#000", "#000");
    drawMarkers(plot, y, r.pCeq, blue, "#000");
    drawMarkers(plot, y, r.pNeq[ci], orange, "#000");

    // axes
    g.append("g").attr("transform", `translate(0,${plotH})`)
      .call(d3.axisBottom(x).tickValues(xTicks).tickFormat(d3.format("d")).tickSize(7).tickPadding(7));
    g.append("g").attr("transform", `translate(0,${plotH})`)
      .call(d3.axisBottom(x).tickValues(xMinorTicks).tickFormat("").tickSize(4));
    g.append("g")
      .call(d3.axisLeft(y).tickValues(r.yTicks).tickFormat(r.fmt).tickSize(7).tickPadding(5));
    g.selectAll(".domain").remove();
    g.selectAll(".tick line").attr("stroke", "#000").attr("stroke-width", 1.2);
    g.selectAll(".tick text").attr("font-size", 21).attr("font-family", "DejaVu Sans").attr("fill", "#000");

    g.append("rect").attr("width", plotW).attr("height", plotH)
      .attr("fill", "none").attr("stroke", "#222").attr("stroke-width", 1.3);

    // exponent and title
    const ex = g.append("text").attr("x", 0).attr("y", -9).attr("font-size", 19);
    ex.append("tspan").text("\u00d710");
    ex.append("tspan").attr("baseline-shift", "super").attr("font-size", 14).text(exponents[ri]);

    const t = g.append("text").attr("x", plotW / 2).attr("y", -10)
      .attr("text-anchor", "middle").attr("font-size", 20.5);
    t.append("tspan").text("T");
    t.append("tspan").attr("baseline-shift", "sub").attr("font-size", 14).text("eff");
    t.append("tspan").text(`=${teffs[ri]}K, log(g)=${loggs[ri]}, R/R`);
    t.append("tspan").attr("baseline-shift", "sub").attr("font-size", 14).text("sun");
    t.append("tspan").text(`=${radii[ri]}`);

    // legend
    const items = [
      { label: objectNames[ri], color: "#000" },
      { label: "ATMO CEQ", color: blue },
      { label: neqNames[ci], color: orange }
    ];
    const lg = g.append("g");
    const box = lg.append("rect").attr("rx", 3).attr("ry", 3)
      .attr("fill", "#fff").attr("fill-opacity", 0.8)
      .attr("stroke", "#cccccc").attr("stroke-width", 1.2);
    let maxLen = 0;
    items.forEach((it, k) => {
      const yy = 13 + k * 24.5;
      lg.append("line").attr("x1", 6).attr("x2", 41).attr("y1", yy).attr("y2", yy)
        .attr("stroke", it.color).attr("stroke-width", 2);
      const tx = lg.append("text").attr("x", 53).attr("y", yy + 6)
        .attr("font-size", 16.8).text(it.label);
      maxLen = Math.max(maxLen, tx.node().getComputedTextLength());
    });
    const boxW = 53 + maxLen + 7;
    box.attr("width", boxW).attr("height", 78);
    const lx = r.legendLeft ? 8 : plotW - 9 - boxW;
    lg.attr("transform", `translate(${lx},8)`);

    // axis titles
    if (ci === 0) {
      const yl = g.append("text")
        .attr("transform", `translate(-60,${plotH / 2}) rotate(-90)`)
        .attr("text-anchor", "middle").attr("font-size", 33);
      yl.append("tspan").text("Flux (");
      yl.append("tspan").attr("font-style", "italic").text("Wm");
      yl.append("tspan").attr("baseline-shift", "super").attr("font-size", 23).text("\u22122");
      yl.append("tspan").attr("font-style", "italic").text("\u03bcm");
      yl.append("tspan").attr("baseline-shift", "super").attr("font-size", 23).text("\u22121");
      yl.append("tspan").text(")");
    }
    if (ri === 2) {
      const xl = g.append("text").attr("x", plotW / 2).attr("y", plotH + 67)
        .attr("text-anchor", "middle").attr("font-size", 33);
      xl.append("tspan").text("Wavelength (");
      xl.append("tspan").attr("font-style", "italic").text("\u03bcm");
      xl.append("tspan").text(")");
    }
  });
});
</script>
</body>
</html>
